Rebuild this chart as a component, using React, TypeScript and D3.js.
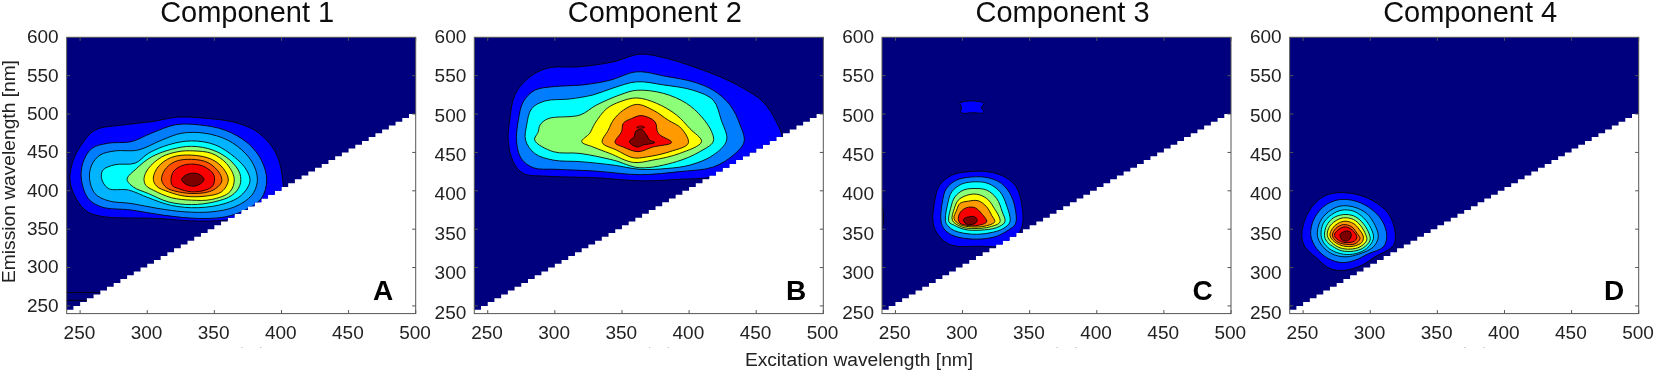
import React from "react";
import * as d3 from "d3";

type Pt = [number, number];

const titles = ["Component 1", "Component 2", "Component 3", "Component 4"];
const letters = ["A", "B", "C", "D"];
const tickValues = [250, 300, 350, 400, 450, 500];
const yTickLabels = [250, 300, 350, 400, 450, 500, 550, 600];
const yTickMarks = [250, 300, 350, 400, 450, 500, 550];

const levelColors: Record<string, string> = {
  blue: "#0000ff",
  azure: "#007cff",
  sky: "#00b4ff",
  cyan: "#00ffff",
  green: "#8cff78",
  yellow: "#ffff00",
  orange: "#ff9a00",
  ember: "#ff5000",
  red: "#f80000",
  maroon: "#7c0000",
};
const levels10 = ["blue", "azure", "sky", "cyan", "green", "yellow", "orange", "ember", "red", "maroon"];
const levels8 = ["blue", "azure", "cyan", "green", "yellow", "orange", "red", "maroon"];

const comp1: Pt[][] = [
  [[242.4,416],[244.9,440],[251,460],[261,479],[283,486],[303,490],[323,496],[343,494.5],[363,490],[380,479],[391,462],[398,440],[401,412],[401,397],[388,375],[368,364],[339,360.5],[308,364],[265,367],[253.6,375],[245,397]],
  [[251,414],[252,436],[258.6,455],[271,462],[288,464],[303,475],[321,486],[338,486],[358,479],[375,462],[385,440],[389,414],[385,390],[373,375],[358,366],[338,364],[313,368],[288,375],[266,379],[256,390]],
  [[257,416],[258.6,433.5],[264.8,446.5],[276,452],[293,453],[310.7,466],[325.6,475],[343,475],[360,466],[373,449],[380,431],[382,412],[377.8,394],[365,379],[348,372.6],[328,372.6],[308,377],[288,383.5],[271,387],[261,396.5]],
  [[266,416],[267,427],[276,434],[291,436],[301,449],[316,460],[333,465],[350.4,460],[365,444],[374,427],[376.5,412],[370,394],[358,383.5],[338,378],[318,381],[300.8,391],[286,401],[271,403]],
  [[285,415],[292,429],[303,444],[318,454],[333,458],[349,453],[361.6,440],[369,422.6],[369,407],[363,394],[350,385.6],[333,382],[315.7,385.6],[300.8,396.5],[289.6,405]],
  [[297.6,416],[300.8,429],[310.7,444],[323,451],[334.3,452],[348,448.7],[359,435.6],[364.8,416],[361.6,398.7],[348,388.7],[333,387.8],[318,391],[304.5,400.8],[299,407]],
  [[304.5,416],[308,431],[318,443.5],[333,446.5],[348,441],[356.7,429],[360.4,414],[355.4,398.7],[343,393],[328,393],[315.7,398.7],[307,406]],
  [[310.7,414],[313,427],[320.6,438],[333,441],[345.5,436.5],[354,422.6],[355.4,411.7],[349,400.8],[336.8,396.5],[323,398.7],[314.4,404]],
  [[317.7,414],[319.4,424.8],[325.6,432.6],[334.3,434.8],[343,431],[349.7,420.4],[349,407],[343,400.8],[333,398.7],[323,403],[318.6,407]],
  [[325.6,414.8],[329.3,421],[334.3,423],[339.3,421],[342.3,414.8],[339.3,408.7],[334.3,406],[328.6,408.7]],
];

const comp2: Pt[][] = [
  [[265.3,464],[266.5,494],[270.3,525],[280,546.5],[294,559.6],[318.7,561.7],[343.5,568],[363.4,578],[383,572.6],[403,561.7],[423,548.7],[440.4,533.5],[455,516],[465,490],[469,466],[450,433.5],[418,418],[393,415],[363.4,413],[331,417],[294,419],[276.5,422.6],[269,438]],
  [[271.5,464],[272.8,492],[276.5,516],[285,531],[299,535.7],[321,538],[341,544],[361,555],[383,549],[403,542],[418,531],[430.4,512],[438,486],[441,464],[433,446.5],[418,431],[393,425],[363.4,421],[331,425.6],[301,428],[284,430],[275,442]],
  [[278.2,466],[279,485.6],[282.7,507],[292.6,517],[311,519.6],[328.6,525],[343.5,534],[361,542],[380.8,538],[403,531],[418,518],[424,492],[428,466],[418,446.5],[400.6,433.5],[383,429],[363.4,428],[343.5,433.5],[318.7,438],[298.8,440],[285,448.7]],
  [[285,466],[287.7,477],[288.9,485.6],[295,494],[318.7,498.7],[331,511.7],[348.5,525],[361,531],[380.8,527],[398,514],[409.3,496.5],[416.8,477],[418,464],[408,451],[390.7,438],[363.4,430],[343.5,440],[318.7,448.7],[298.8,451]],
  [[320,464],[326,475],[329.9,488],[338.6,507],[348.5,516],[361,521],[375.8,514],[390.7,498.7],[400.6,481],[409.3,464],[393,448.7],[373,440],[358.4,437],[341,448.7],[328.6,457]],
  [[335.3,463],[339.8,479],[343.5,492],[351,505],[361,512.6],[373.3,505],[384.5,492],[394.4,481],[399.4,462],[385.7,451],[368,444],[358.4,443],[346,453]],
  [[344.8,463],[349.7,477],[351,488],[357,494],[364.6,498],[374.6,490],[377,475],[387,463],[373,457],[362,451],[351,457]],
  [[355.5,464],[359,470.4],[360.4,478],[364.6,480],[368.4,472.6],[370.8,466],[374.6,463],[365.9,459.6],[361,457]],
];
const comp2Speck: Pt[][] = [[[361,482.6],[364,484.4],[367,482.6],[364,481.8]]];

const comp3: Pt[][] = [
  [[278.2,357],[279.4,388],[283,407.4],[292,420.4],[304.3,424.8],[319,424.8],[331.6,418],[340,405],[344,383.5],[344.8,357],[341.5,344],[331.6,329],[311.7,327.8],[292,329],[283,340]],
  [[284,359.6],[285,385.6],[288,403],[295.6,414],[306.8,418],[319,417],[329,409.6],[335.3,396.5],[339,379],[339.5,357],[334,348.7],[324,340],[309,337],[294,341],[287,348.7]],
  [[287.4,359.6],[289,383.5],[292,398.7],[299.3,408.7],[309.2,411.7],[319,409.6],[327.9,398.7],[332.8,381],[335.3,359.6],[330.4,350.9],[320.4,345.2],[306.8,343.5],[294.3,347.8],[289.9,353]],
  [[289.9,359.6],[291.4,379],[294.3,392],[300.6,400.9],[309.2,403],[318,400.9],[325.4,390],[329.6,372.6],[331.6,359.6],[325.4,352],[313,348.7],[301.8,349.6],[293.9,355]],
  [[292.4,361.7],[293.9,377],[296.8,387.8],[303,394],[310.5,395.6],[318,390],[323,379],[327.9,359.6],[320.4,353],[309.2,350.9],[299.3,353]],
  [[293.6,363.9],[295.6,374.8],[298,383.5],[304.3,386.5],[311.7,387],[318,379],[321.7,368],[324,359.6],[316.7,354],[306.8,353],[298,356]],
  [[296.8,364],[298.6,372.6],[303,378],[309.2,378],[314.2,370.4],[318,359.6],[311.7,355],[303,355],[298,358]],
  [[300.6,362.6],[304.3,366],[309.2,366],[311,361.7],[309.2,357.4],[303,356.5]],
];
const comp3Blob: Pt[][] = [[[298,514],[304.3,517],[309,517],[316,514],[314,508.7],[316,502],[308,501.7],[298.8,502],[299.3,509.6]]];

const comp4: Pt[][] = [
  [[249,342],[252.7,368],[261.4,388],[271.3,396.5],[286.2,396.5],[301,388],[313.5,370.4],[318.5,346.5],[317.3,329],[303.6,314],[293.7,303],[281.2,296.5],[270,298.7],[259,314],[251.4,327]],
  [[255.7,342],[257.7,361.7],[265,379],[275,387.8],[286.2,387.8],[298.6,379],[308.6,361.7],[312.3,342],[309.8,327],[298.6,318],[288.7,309.6],[278.8,306.5],[268.8,311.7],[260,324.8]],
  [[260.6,342],[262.6,359.6],[268.8,372.6],[277.5,380],[287.5,379],[297.4,370.4],[303.6,355],[306,340],[302.4,327],[292.4,318],[281.2,314],[271.3,318],[263.9,329]],
  [[263.4,342],[265,357.4],[271.3,369],[278.8,374.8],[287.5,373.5],[295,364.8],[300.6,350.9],[302.4,337.8],[297.4,324.8],[288.7,318],[280,317.4],[271.3,322.6],[265.9,331]],
  [[265.9,342],[267.6,355],[272.6,364.8],[280,369],[287.5,367.4],[293.7,359.6],[298.6,346.5],[299.9,335.7],[294.9,325.7],[287.5,321.3],[278.8,321.8],[271.8,327.8],[267.6,334]],
  [[268,342],[269.6,353],[273.8,360.4],[280,364.8],[287.5,362.6],[292.9,354.4],[296.6,343],[297.4,335.7],[292.4,327],[285,324],[277.5,325.7],[271.3,332.6]],
  [[270,342],[271.8,350.9],[275.8,357.4],[281.2,360.4],[287.5,357.4],[291.7,350],[294.9,340],[293.7,332.6],[287.5,327.8],[280,328],[273.3,333.5]],
  [[271.8,342],[274.3,350.9],[280,356],[286.2,353],[290.4,344],[292.4,337.8],[288.7,331],[281.2,330.4],[275,334]],
  [[273.3,342],[275.8,348.7],[281.2,353],[286.7,348.7],[290,340],[288.2,334.4],[281.2,332.6],[276.3,335.7]],
  [[277.5,343],[281.2,347.4],[285,346.5],[285.7,340],[283.2,334.8],[279.3,335.7]],
];

// Stray horizontal contour lines near the lower-left corner of Component 1
const comp1StrayEmissions = [267.4, 257.3];
// Sliver of a contour on the left edge of Component 3
const comp3EdgeArc: Pt[] = [[239,384],[240.6,376],[241.2,365],[240.6,354],[239,349]];
// Faint specks under each x axis (excitation positions)
const speckExcitations = [370, 384];

const stepEx = d3.range(240, 500, 5);

const plotLefts = [66.7, 474.3, 882, 1289.7];
const plotWidth = 349;
const plotTop = 37.3;
const plotBottom = 313.6;
const letterXs = [383, 796, 1202.7, 1614];
const TICK = "#555";
const FONT = "'Liberation Sans', Arial, sans-serif";

const panels = [
  { contours: comp1, levels: levels10, extra: [] as Pt[][] },
  { contours: comp2, levels: levels8, extra: [] as Pt[][], speck: comp2Speck },
  { contours: comp3, levels: levels8, extra: comp3Blob },
  { contours: comp4, levels: levels10, extra: [] as Pt[][] },
];

const y = d3.scaleLinear().domain([240, 600]).range([plotBottom, plotTop]);
const alignedLabelY = y;
const driftLabelY = d3.scaleLinear().domain([250, 600]).range([311.7, 36]);

function Panel({ i }: { i: number }) {
  const left = plotLefts[i];
  const x = d3.scaleLinear().domain([240, 500]).range([left, left + plotWidth]);
  const smooth = d3.line<Pt>().x((d) => x(d[0])).y((d) => y(d[1])).curve(d3.curveCatmullRomClosed.alpha(0.5));
  const open = d3.line<Pt>().x((d) => x(d[0])).y((d) => y(d[1])).curve(d3.curveCatmullRom.alpha(0.5));
  const straight = d3.line<Pt>().x((d) => x(d[0])).y((d) => y(d[1]));

  const stair: Pt[] = [[240, 600], [500, 600]];
  [...stepEx].reverse().forEach((e) => {
    stair.push([e + 5, e + 5]);
    stair.push([e, e + 5]);
  });
  const stairPath = straight(stair) + "Z";
  const p = panels[i];
  const labelY = i === 0 ? alignedLabelY : driftLabelY;
  const clipId = `tri${i}`;

  return (
    <g>
      <defs>
        <clipPath id={clipId}>
          <path d={stairPath} />
        </clipPath>
      </defs>
      <path d={stairPath} fill="#00007f" />
      <g clipPath={`url(#${clipId})`} stroke="#000" strokeWidth={0.85} strokeLinejoin="round">
        {p.extra.map((c, k) => (
          <path key={"e" + k} d={smooth(c) ?? ""} fill={levelColors.blue} />
        ))}
        {p.contours.map((c, k) => (
          <path key={k} d={smooth(c) ?? ""} fill={levelColors[p.levels[k]]} />
        ))}
        {(p as any).speck?.map((c: Pt[], k: number) => (
          <path key={"s" + k} d={smooth(c) ?? ""} fill={levelColors.red} />
        ))}
        {i === 0 &&
          comp1StrayEmissions.map((em) => (
            <path key={em} d={straight([[240, em], [500, em]]) ?? ""} fill="none" />
          ))}
        {i === 2 && <path d={open(comp3EdgeArc) ?? ""} fill="none" />}
      </g>
      <rect x={left} y={plotTop} width={plotWidth} height={plotBottom - plotTop} fill="none" stroke={TICK} strokeWidth={1} />
      {tickValues.map((t) => (
        <g key={t}>
          <line x1={x(t)} x2={x(t)} y1={plotBottom} y2={plotBottom - 3.5} stroke={TICK} />
          <line x1={x(t)} x2={x(t)} y1={plotTop} y2={plotTop + 3.5} stroke={TICK} />
          <text x={x(t) - 0.7} y={338.6} textAnchor="middle" fontSize={19} fill="#222" fontFamily={FONT}>{t}</text>
        </g>
      ))}
      {yTickMarks.map((t) => (
        <g key={t}>
          <line x1={left} x2={left + 3.5} y1={y(t)} y2={y(t)} stroke={TICK} />
          <line x1={left + plotWidth} x2={left + plotWidth - 3.5} y1={y(t)} y2={y(t)} stroke={TICK} />
        </g>
      ))}
      {yTickLabels.map((t) => (
        <text key={t} x={left - 8} y={labelY(t) + (i === 0 ? -1 : 0)} dy="0.36em" textAnchor="end" fontSize={19} fill="#222" fontFamily={FONT}>{t}</text>
      ))}
      {speckExcitations.map((e) => (
        <rect key={e} x={x(e)} y={347} width={1.5} height={1} fill="#c4c4c4" />
      ))}
      <text x={left + plotWidth / 2 + 6} y={21.5} textAnchor="middle" fontSize={29} fill="#111" fontFamily={FONT}>{titles[i]}</text>
      <text x={letterXs[i]} y={300} textAnchor="middle" fontSize={28} fontWeight={700} fill="#000" fontFamily={FONT}>{letters[i]}</text>
    </g>
  );
}

export default function App() {
  return (
    <svg width={1654} height={371} style={{ position: "absolute", left: 0, top: 0, background: "#fff" }}>
      <defs>
        <filter id="soft" x="0" y="0" width="100%" height="100%" filterUnits="userSpaceOnUse" primitiveUnits="userSpaceOnUse">
          <feGaussianBlur stdDeviation={0.4} />
        </filter>
      </defs>
      <g filter="url(#soft)">
        <rect width={1654} height={371} fill="#fff" />
        {panels.map((_, i) => <Panel key={i} i={i} />)}
        <text transform="translate(14.5,171.5) rotate(-90)" textAnchor="middle" fontSize={19.2} fill="#222" fontFamily={FONT}>Emission wavelength [nm]</text>
        <text x={859} y={365.5} textAnchor="middle" fontSize={19.2} fill="#222" fontFamily={FONT}>Excitation wavelength [nm]</text>
      </g>
    </svg>
  );
}
